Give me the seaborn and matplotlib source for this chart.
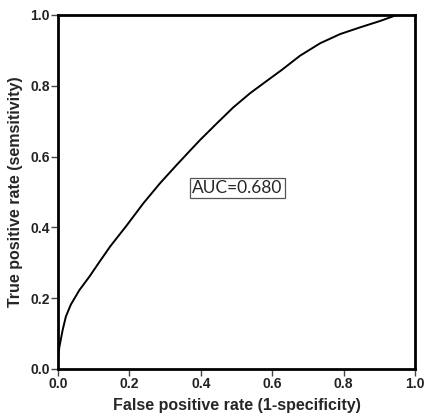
import numpy as np
import pandas as pd
import seaborn as sns
import matplotlib
matplotlib.use('Agg')
import matplotlib.pyplot as plt

# Punti della curva ROC
fpr = [0.0, 0.0, 0.004, 0.013, 0.022, 0.036, 0.060, 0.088, 0.113, 0.146, 0.192,
       0.239, 0.286, 0.332, 0.370, 0.398, 0.445, 0.491, 0.538, 0.585, 0.627,
       0.678, 0.734, 0.790, 0.846, 0.902, 0.949, 1.0]
tpr = [0.0, 0.030, 0.063, 0.110, 0.148, 0.182, 0.223, 0.261, 0.298, 0.346, 0.405,
       0.468, 0.525, 0.576, 0.617, 0.647, 0.694, 0.739, 0.779, 0.814, 0.845,
       0.885, 0.920, 0.946, 0.965, 0.983, 1.0, 1.0]
auc_label = 'AUC=0.680'
ticks = [0.0, 0.2, 0.4, 0.6, 0.8, 1.0]

df = pd.DataFrame({'fpr': fpr, 'tpr': tpr})

sns.set_style('ticks')
plt.rcParams['font.family'] = ['Liberation Sans', 'DejaVu Sans']

fig = plt.figure(figsize=(4.25, 4.18), dpi=100)
ax = fig.add_axes([58 / 425, 49 / 418, 357 / 425, 354 / 418])

sns.lineplot(data=df, x='fpr', y='tpr', color='black', linewidth=1.4,
             sort=False, estimator=None, ax=ax)

ax.set_xlim(0, 1)
ax.set_ylim(0, 1)
ax.set_xticks(ticks)
ax.set_yticks(ticks)
ax.set_xticklabels([f'{t:.1f}' for t in ticks], fontsize=10, fontweight='bold', color='#222222')
ax.set_yticklabels([f'{t:.1f}' for t in ticks], fontsize=10, fontweight='bold', color='#222222')
ax.tick_params(direction='out', length=5, width=1, color='#444444', pad=1)

for s in ax.spines.values():
    s.set_visible(True)
    s.set_linewidth(2)
    s.set_color('black')

ax.set_xlabel('False positive rate (1-specificity)', fontsize=11.5, fontweight='bold', labelpad=5)
ax.set_ylabel('True positive rate (semsitivity)', fontsize=11.5, fontweight='bold', labelpad=5)

ax.text(0.503, 0.511, auc_label, fontsize=12.5, family=['Lato', 'DejaVu Sans'],
        ha='center', va='center',
        bbox=dict(boxstyle='square,pad=0.12', facecolor='white', edgecolor='#555555', linewidth=0.9))

fig.savefig('out.png', dpi=100)
